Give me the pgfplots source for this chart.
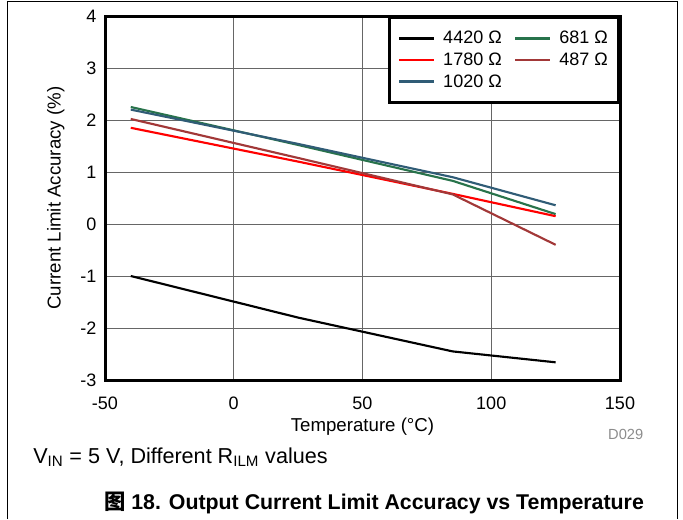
\documentclass[border=0pt]{standalone}
\usepackage{pgfplots}
\pgfplotsset{compat=1.18}
\usepackage{fontspec}
\setmainfont{Liberation Sans}
\newfontfamily\cjk{Noto Sans CJK SC}
\definecolor{cblue}{RGB}{48,92,118}
\definecolor{cgreen}{RGB}{40,115,75}
\definecolor{cbrown}{RGB}{162,56,56}
\begin{document}
\begin{tikzpicture}[x=0.75pt,y=0.75pt]
\useasboundingbox (0,0) rectangle (683,519);
\draw[line width=0.75pt] (7,0) -- (7,517.5) -- (677,517.5) -- (677,0);
\begin{axis}[
  at={(78.75pt,104.25pt)}, anchor=south west,
  scale only axis, width=386.25pt, height=273pt,
  xmin=-50, xmax=150, ymin=-3, ymax=4,
  xtick={-50,0,50,100,150}, ytick={-3,-2,-1,0,1,2,3,4},
  grid=major,
  major grid style={black!60, line width=0.75pt},
  axis line style={line width=2.25pt},
  major tick length=0pt,
  /pgf/number format/assume math mode=true,
  tick label style={font=\fontsize{13.5}{15}\selectfont},
  xticklabel style={yshift=-9pt},
  yticklabel style={xshift=-3pt},
  xlabel={Temperature (\textdegree C)},
  ylabel={Current Limit Accuracy (\%)},
  label style={font=\fontsize{14}{16}\selectfont},
  xlabel style={yshift=0.5pt},
  ylabel style={yshift=5pt},
  legend columns=2,
  legend cell align=left,
  legend style={at={(1,1)}, anchor=north east, draw=black, line width=2.25pt,
    font=\fontsize{13.5}{15}\selectfont, inner xsep=6pt, inner ysep=8pt,
    row sep=1.5pt,
    /tikz/every even column/.append style={column sep=7pt}},
  legend image code/.code={\draw[#1, line width=2.2pt] (0pt,0pt) -- (26pt,0pt);},
]
\addplot[black, line width=1.6pt] coordinates {(-40,-1.00) (25,-1.80) (85,-2.45) (125,-2.66)};
\addlegendentry{\hspace{4pt}4420 Ω}
\addplot[cgreen, line width=1.6pt] coordinates {(-40,2.25) (25,1.52) (85,0.83) (125,0.19)};
\addlegendentry{\hspace{4pt}681 Ω}
\addplot[red, line width=1.6pt] coordinates {(-40,1.85) (25,1.20) (85,0.58) (125,0.15)};
\addlegendentry{\hspace{4pt}1780 Ω}
\addplot[cbrown, line width=1.6pt] coordinates {(-40,2.02) (25,1.27) (85,0.57) (125,-0.40)};
\addlegendentry{\hspace{4pt}487 Ω}
\addplot[cblue, line width=1.6pt] coordinates {(-40,2.20) (25,1.54) (85,0.90) (125,0.36)};
\addlegendentry{\hspace{4pt}1020 Ω}
\end{axis}
\node[anchor=base east, text=black!45, font=\fontsize{11}{13}\selectfont] at (648,80) {D029};
\node[anchor=base west, font=\fontsize{16.2}{18}\selectfont, inner sep=0pt] at (33,56) {V\textsubscript{IN} = 5 V, Different R\textsubscript{ILM} values};
\node[anchor=base, font=\fontsize{16}{18}\selectfont\bfseries, inner sep=0pt] at (374,10) {{\cjk 图} 18. Output Current Limit Accuracy vs Temperature};
\end{tikzpicture}
\end{document}
